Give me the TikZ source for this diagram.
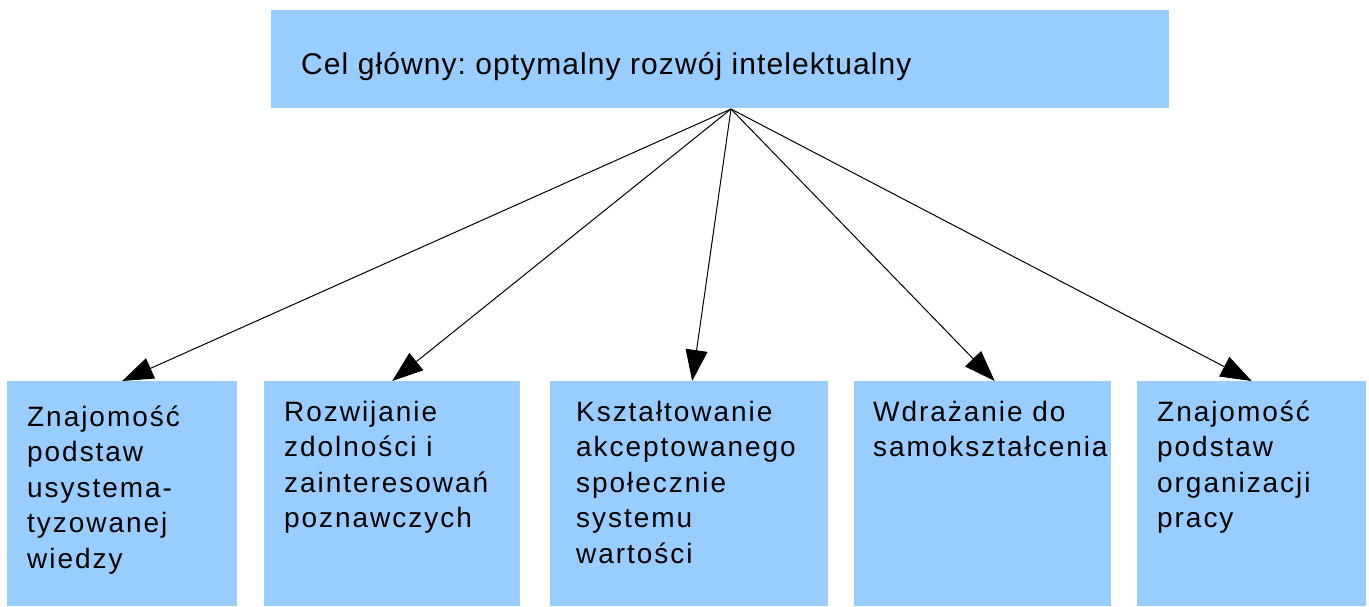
\documentclass[tikz,border=0pt]{standalone}
\usepackage{fontspec}
\setmainfont{Liberation Sans}
\newfontfamily\goalfont[LetterSpace=3.6]{Liberation Sans}
\newfontfamily\aimfont[LetterSpace=7]{Liberation Sans}
\usetikzlibrary{arrows.meta,positioning}
\definecolor{boxblue}{RGB}{153,204,255}
\frenchspacing

\begin{document}
\begin{tikzpicture}[x=1pt,y=-1pt,
    box/.style={fill=boxblue, draw=none, anchor=north west, inner sep=0pt, minimum height=225pt},
    goaltext/.style={anchor=base west, inner sep=0pt, font=\goalfont\fontsize{30}{34}\selectfont},
    aimtext/.style={anchor=base west, inner sep=0pt, align=left, font=\aimfont\fontsize{28}{35.5}\selectfont},
    arr/.style={-{Triangle[length=31pt,width=22pt]}, line width=1pt}]
    \useasboundingbox (0,0) rectangle (1369,606);

    % Main goal
    \node[box, minimum width=898pt, minimum height=98pt] (goal) at (271,10) {};
    \node[goaltext] (goaltxt) at (301,74) {Cel główny: optymalny rozwój intelektualny};
    \coordinate (src) at (731,109);

    % Partial goals
    \node[box, minimum width=230pt] (b1) at (7,381) {};
    \node[box, minimum width=256pt] (b2) at (264,381) {};
    \node[box, minimum width=278pt] (b3) at (550,381) {};
    \node[box, minimum width=257pt] (b4) at (854,381) {};
    \node[box, minimum width=229pt] (b5) at (1137,381) {};

    % (base = baseline of the last line)
    \node[aimtext] (t1) at (27,568) {Znajomość\\podstaw\\usystema-\\tyzowanej\\wiedzy};
    \node[aimtext] (t2) at (284,527.5) {Rozwijanie\\zdolności i\\zainteresowań\\poznawczych};
    \node[aimtext] (t3) at (576,563) {Kształtowanie\\akceptowanego\\społecznie\\systemu\\wartości};
    \node[aimtext] (t4) at (873,456.5) {Wdrażanie do\\samokształcenia};
    \node[aimtext] (t5) at (1157,527.5) {Znajomość\\podstaw\\organizacji\\pracy};

    % Arrows
    \draw[arr] (src) -- (b1.north);
    \draw[arr] (src) -- (b2.north);
    \draw[arr] (src) -- ([xshift=3pt]b3.north);
    \draw[arr] (src) -- ([xshift=12pt]b4.north);
    \draw[arr] (src) -- (b5.north);
\end{tikzpicture}
\end{document}
